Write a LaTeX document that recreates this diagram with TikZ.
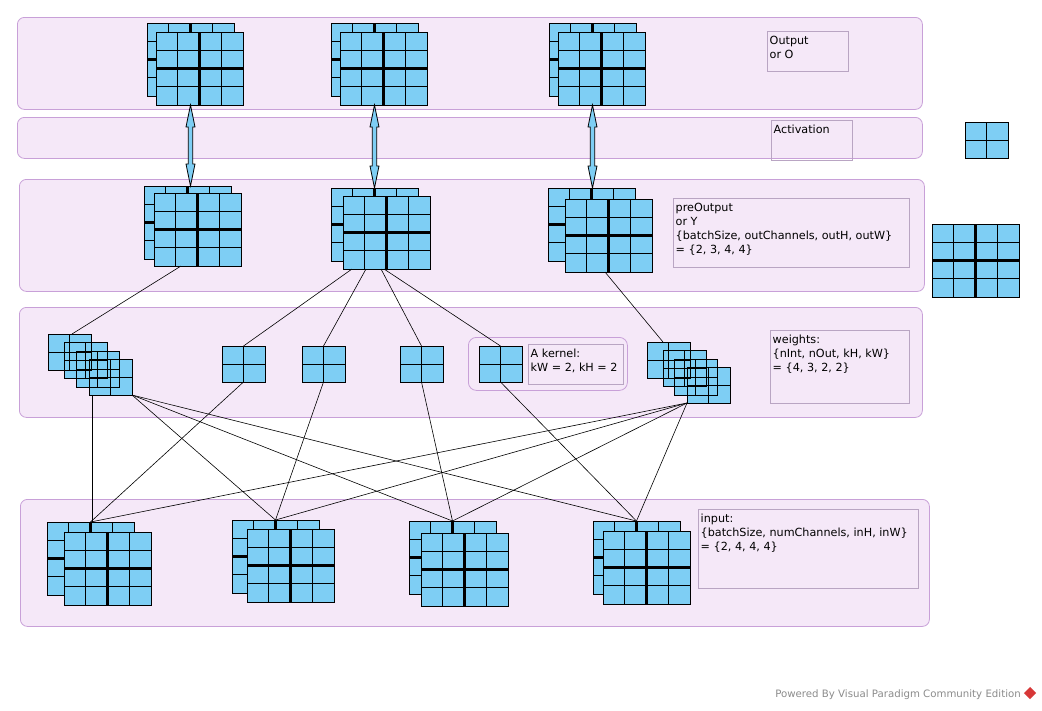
\documentclass[tikz,border=0pt]{standalone}
\usepackage{fontspec}
\setmainfont{DejaVu Sans}
\usetikzlibrary{calc}
\definecolor{cellblue}{RGB}{126,206,244}
\definecolor{layerfill}{RGB}{245,232,248}
\definecolor{layerdraw}{RGB}{200,160,216}
\definecolor{labeldraw}{RGB}{185,165,195}
\definecolor{vpgrey}{RGB}{140,140,140}
\definecolor{vpred}{RGB}{215,55,55}
\newcommand\ppb{path picture bounding box}
\tikzset{
  grid4/.style={draw=black, line width=0.9pt, fill=cellblue, minimum width=87pt, minimum height=73pt,
    inner sep=0pt, outer sep=0pt, anchor=north west,
    path picture={
      \foreach \f in {0.25,0.75}{
        \draw[line width=0.7pt] ($(\ppb.north west)!\f!(\ppb.north east)$) -- ($(\ppb.south west)!\f!(\ppb.south east)$);
        \draw[line width=0.7pt] ($(\ppb.north west)!\f!(\ppb.south west)$) -- ($(\ppb.north east)!\f!(\ppb.south east)$);
      }
      \draw[line width=2.1pt] (\ppb.north) -- (\ppb.south) (\ppb.west) -- (\ppb.east);
    }},
  kern/.style={draw=black, line width=0.9pt, fill=cellblue, minimum width=43pt, minimum height=36pt,
    inner sep=0pt, outer sep=0pt, anchor=north west,
    path picture={\draw[line width=0.8pt] (\ppb.north) -- (\ppb.south) (\ppb.west) -- (\ppb.east);}},
  kline/.style={kern, fill=none},
  layer/.style={draw=layerdraw, fill=layerfill, line width=0.8pt, rounded corners=7pt,
    anchor=north west, inner sep=0pt},
  labelbox/.style={draw=labeldraw, line width=0.8pt, anchor=north west, inner sep=0pt},
  lbl/.style={anchor=north west, align=left, inner xsep=2.5pt, inner ysep=4.5pt, font=\fontsize{11.2}{14.2}\selectfont},
  conn/.style={draw=black, line width=0.6pt},
  barrow/.style={draw=black, fill=cellblue, line width=0.8pt, line join=miter},
}
\newcommand\kfill[2]{\fill[cellblue] (#1,#2) rectangle ++(43,36);}
\newcommand\blockarrow[3]{%
  \draw[barrow] let \p1=(#1.south |- #2.south), \p2=(#1.south |- #3.north) in
    (\x1,\y1) -- (\x1+4.5pt,\y1-22pt) -- (\x1+2.2pt,\y1-22pt) -- (\x1+2.2pt,\y2+22pt)
    -- (\x1+4.5pt,\y2+22pt) -- (\x1,\y2) -- (\x1-4.5pt,\y2+22pt) -- (\x1-2.2pt,\y2+22pt)
    -- (\x1-2.2pt,\y1-22pt) -- (\x1-4.5pt,\y1-22pt) -- cycle;}
\begin{document}
\begin{tikzpicture}[x=1pt,y=-1pt]
\useasboundingbox (0,0) rectangle (1042,710);
\fill[white] (0,0) rectangle (1042,710);

% layers
\node[layer, minimum width=905pt, minimum height=92pt] (outL) at (17,17) {};
\node[layer, minimum width=905pt, minimum height=41pt] (actL) at (17,117) {};
\node[layer, minimum width=905pt, minimum height=112pt] (preL) at (19,179) {};
\node[layer, minimum width=903pt, minimum height=110pt] (wL) at (19,307) {};
\node[layer, minimum width=909pt, minimum height=127pt] (inL) at (20,499) {};

% label boxes
\node[labelbox, minimum width=81pt, minimum height=40pt] (outB) at (767,31) {};
\node[lbl] (outT) at (outB.north west) {Output\\or O};
\node[labelbox, minimum width=81pt, minimum height=40pt] (actB) at (771,120) {};
\node[lbl] (actT) at (actB.north west) {Activation};
\node[labelbox, minimum width=236pt, minimum height=69pt] (preB) at (673,198) {};
\node[lbl] (preT) at (preB.north west) {preOutput\\or Y\\\{batchSize, outChannels, outH, outW\}\\= \{2, 3, 4, 4\}};
\node[labelbox, minimum width=139pt, minimum height=73pt] (wB) at (770,330) {};
\node[lbl] (wT) at (wB.north west) {weights:\\\{nInt, nOut, kH, kW\}\\= \{4, 3, 2, 2\}};
\node[labelbox, minimum width=220pt, minimum height=79pt] (inB) at (698,509) {};
\node[lbl] (inT) at (inB.north west) {input:\\\{batchSize, numChannels, inH, inW\}\\= \{2, 4, 4, 4\}};
\node[layer, rounded corners=8pt, minimum width=159pt, minimum height=53pt] (kG) at (468,337) {};
\node[labelbox, minimum width=95pt, minimum height=40pt] (kB) at (528,344) {};
\node[lbl] (kT) at (kB.north west) {A kernel:\\kW = 2, kH = 2};

% preOutput grids
\node[grid4] (P1b) at (144,186) {}; \node[grid4] (P1f) at (154,193) {};
\node[grid4] (P2b) at (331,188) {}; \node[grid4] (P2f) at (343,196) {};
\node[grid4] (P3b) at (548,188) {}; \node[grid4] (P3f) at (565,199) {};

% weights: single kernels
\node[kern] (K1) at (222,346) {};
\node[kern] (K2) at (302,346) {};
\node[kern] (K3) at (400,346) {};
\node[kern] (K4) at (479,346) {};

% connectors preOutput -> weights
\draw[conn] ($(P1f.south west)+(27,0)$) -- (72,334) coordinate (L1top);
\draw[conn] ($(P2f.south west)+(9,0)$) -- (K1.north);
\draw[conn] ($(P2f.south west)+(23,0)$) -- (K2.north);
\draw[conn] ($(P2f.south west)+(38,0)$) -- (K3.north);
\draw[conn] ($(P2f.south west)+(41,0)$) -- (K4.north);
\draw[conn] ($(P3f.south west)+(40,0)$) -- (663,342) coordinate (R1top);

% input grids (back first so that lines reach them)
\coordinate (L4bl) at (92,395);
\coordinate (L4br) at (132,395);
\coordinate (R4bl) at (687,403);
\node[grid4] (I1b) at (47,522) {};
\node[grid4] (I2b) at (232,520) {};
\node[grid4] (I3b) at (409,521) {};
\node[grid4] (I4b) at (593,521) {};

\draw[conn] (L4bl) -- (L4bl |- I1b.north);
\draw[conn] (L4br) -- (I2b.north);
\draw[conn] (L4br) -- (I3b.north);
\draw[conn] (L4br) -- (I4b.north);
\draw[conn] (K1.south) -- (I1b.north);
\draw[conn] (K2.south) -- (I2b.north);
\draw[conn] (K3.south) -- (I3b.north);
\draw[conn] (K4.south) -- (I4b.north);
\draw[conn] (R4bl) -- (I1b.north);
\draw[conn] (R4bl) -- (I2b.north);
\draw[conn] (R4bl) -- (I3b.north);
\draw[conn] (R4bl) -- (I4b.north);

\node[grid4] (I1f) at (64,532) {};
\node[grid4] (I2f) at (247,529) {};
\node[grid4] (I3f) at (421,533) {};
\node[grid4] (I4f) at (603,531) {};

% weights: stacked kernels (see-through)
\kfill{48}{334}\kfill{64}{342}\kfill{76}{351}\kfill{89}{359}
\node[kline] (L1) at (48,334) {};
\node[kline] (L2) at (64,342) {};
\node[kline] (L3) at (76,351) {};
\node[kline] (L4) at (89,359) {};
\kfill{647}{342}\kfill{663}{350}\kfill{674}{359}\kfill{687}{367}
\node[kline] (R1) at (647,342) {};
\node[kline] (R2) at (663,350) {};
\node[kline] (R3) at (674,359) {};
\node[kline] (R4) at (687,367) {};

% output grids
\node[grid4] (O1b) at (147,23) {}; \node[grid4] (O1f) at (156,32) {};
\node[grid4] (O2b) at (331,23) {}; \node[grid4] (O2f) at (340,32) {};
\node[grid4] (O3b) at (549,23) {}; \node[grid4] (O3f) at (558,32) {};

% standalone legend grids
\node[kern] (S) at (965,122) {};
\node[grid4] (G) at (932,224) {};

% activation arrows
\blockarrow{O1b}{O1f}{P1b}
\blockarrow{O2b}{O2f}{P2b}
\blockarrow{O3b}{O3f}{P3b}

% watermark
\node[anchor=base east, inner sep=0pt, text=vpgrey, font=\fontsize{10.2}{12}\selectfont] (wm) at (1021,697) {Powered By Visual Paradigm Community Edition};
\node[fill=vpred, rotate=45, minimum size=8.5pt, inner sep=0pt] (logo) at (1030,693) {};
\end{tikzpicture}
\end{document}
